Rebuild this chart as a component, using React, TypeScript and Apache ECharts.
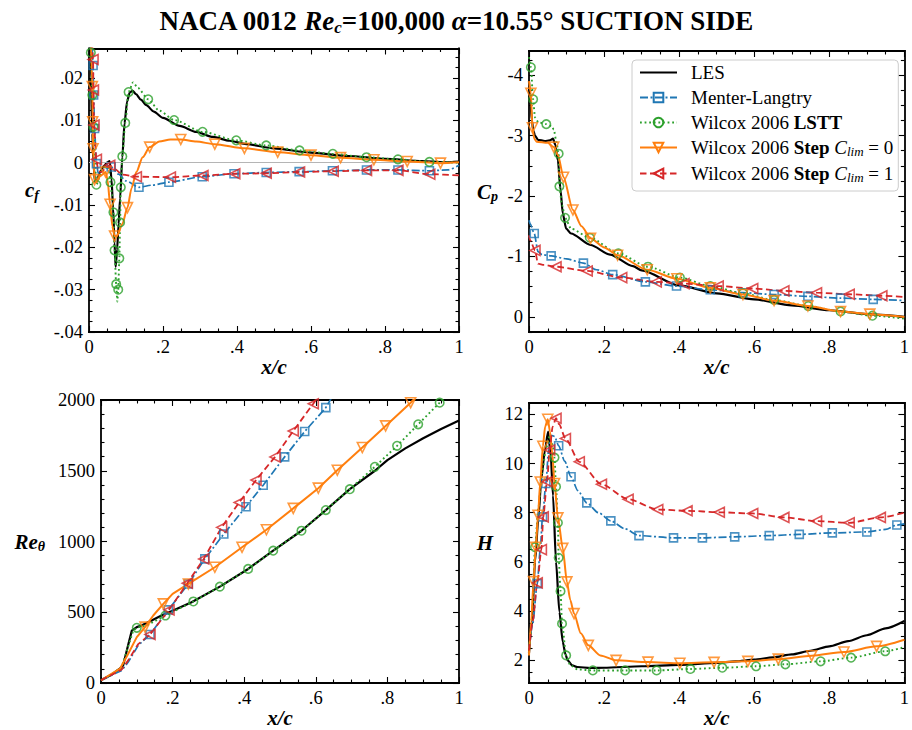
import { useEffect, useRef } from 'react';
import * as echarts from 'echarts';

type P = [number, number];

const FONT = '"Liberation Serif", "Times New Roman", serif';

// ---------- tick labels ----------
const xTicks = [0, 0.2, 0.4, 0.6, 0.8, 1];
const cfTicks = [-0.04, -0.03, -0.02, -0.01, 0, 0.01, 0.02];
const cpTicks = [-4, -3, -2, -1, 0];
const reTicks = [0, 500, 1000, 1500, 2000];
const hTicks = [2, 4, 6, 8, 10, 12];

const NAMES = ['LES', 'Menter-Langtry', 'Wilcox 2006 LSTT', 'Wilcox 2006 Step Clim=0', 'Wilcox 2006 Step Clim=1'];

// ---------- skin friction c_f ----------
const cfLES: P[] = [
  [0.001, 0.045], [0.005, 0.02], [0.009, 0.007], [0.012, 0.0], [0.016, -0.0045], [0.021, -0.0042],
  [0.03, -0.0022], [0.04, -0.0008], [0.05, 0.0001], [0.056, 0.0004], [0.061, -0.004], [0.065, -0.0106],
  [0.069, -0.019], [0.072, -0.0246], [0.076, -0.0205], [0.08, -0.0145], [0.084, -0.0085], [0.09, 0.0013],
  [0.096, 0.0093], [0.103, 0.0145], [0.11, 0.0166], [0.118, 0.017], [0.127, 0.0162], [0.14, 0.0149],
  [0.155, 0.0136], [0.175, 0.0121], [0.2, 0.0106], [0.245, 0.0087], [0.29, 0.0073], [0.335, 0.0061],
  [0.38, 0.0052], [0.425, 0.0044], [0.5, 0.0034], [0.6, 0.0024], [0.7, 0.0016], [0.8, 0.0009],
  [0.9, 0.0004], [0.96, 0.0001], [1.0, 0.0003],
];
const cfML: P[] = [
  [0.003, 0.045], [0.011, 0.023], [0.0125, 0.016], [0.015, 0.0081], [0.02, -0.0002], [0.025, -0.0025],
  [0.035, -0.0018], [0.047, -0.0012], [0.06, -0.001], [0.08, -0.0027], [0.1, -0.0043], [0.135, -0.0058],
  [0.17, -0.0053], [0.216, -0.0046], [0.306, -0.0033], [0.392, -0.0026], [0.479, -0.0023], [0.568, -0.0021],
  [0.658, -0.0019], [0.75, -0.0017], [0.835, -0.0017], [0.92, -0.0019], [0.97, -0.0017], [1.0, -0.0006],
];
const cfMLm: P[] = [
  [0.011, 0.023], [0.0125, 0.016], [0.015, 0.0081], [0.02, -0.0002], [0.06, -0.001], [0.135, -0.0058],
  [0.216, -0.0046], [0.306, -0.0033], [0.392, -0.0026], [0.479, -0.0023], [0.568, -0.0021], [0.658, -0.0019],
  [0.75, -0.0017], [0.835, -0.0017], [0.92, -0.0019],
];
const cfLSTT: P[] = [
  [0.001, 0.05], [0.005, 0.026], [0.009, 0.016], [0.012, 0.0085], [0.016, 0.0], [0.02, -0.0052],
  [0.028, -0.0035], [0.038, -0.0012], [0.048, -0.0008], [0.054, -0.002], [0.058, -0.0046], [0.062, -0.0075],
  [0.066, -0.0117], [0.069, -0.0207], [0.0735, -0.0287], [0.0765, -0.0328], [0.079, -0.03], [0.082, -0.0226],
  [0.084, -0.0141], [0.086, -0.0058], [0.09, 0.0015], [0.098, 0.0094], [0.107, 0.0167], [0.119, 0.019],
  [0.132, 0.0177], [0.16, 0.015], [0.19, 0.0123], [0.23, 0.0101], [0.307, 0.0073], [0.398, 0.0053],
  [0.479, 0.0041], [0.569, 0.0029], [0.659, 0.0021], [0.75, 0.0013], [0.835, 0.0008], [0.92, 0.0002], [1.0, 0.0],
];
const cfLSTTm: P[] = [
  [0.005, 0.026], [0.009, 0.016], [0.012, 0.0085], [0.02, -0.0052], [0.058, -0.0046], [0.066, -0.0117],
  [0.069, -0.0207], [0.0735, -0.0287], [0.079, -0.03], [0.082, -0.0226], [0.084, -0.0141], [0.086, -0.0058],
  [0.09, 0.0015], [0.098, 0.0094], [0.107, 0.0167], [0.16, 0.015], [0.23, 0.0101], [0.307, 0.0073],
  [0.398, 0.0053], [0.479, 0.0041], [0.569, 0.0029], [0.659, 0.0021], [0.75, 0.0013], [0.835, 0.0008], [0.92, 0.0002],
];
const cfS0: P[] = [
  [0.002, 0.04], [0.009, 0.018], [0.01, 0.0097], [0.011, 0.0033], [0.015, -0.004], [0.02, -0.0046],
  [0.03, -0.0032], [0.045, -0.0022], [0.05, -0.004], [0.057, -0.0098], [0.063, -0.015], [0.069, -0.0173],
  [0.076, -0.0172], [0.09, -0.0145], [0.104, -0.0106], [0.115, -0.006], [0.128, -0.0022], [0.145, 0.0013],
  [0.164, 0.0037], [0.19, 0.005], [0.22, 0.0055], [0.248, 0.0055], [0.29, 0.005], [0.34, 0.0044],
  [0.42, 0.0034], [0.51, 0.0025], [0.6, 0.0018], [0.68, 0.0012], [0.77, 0.0007], [0.86, 0.0003],
  [0.95, -0.0001], [1.0, 0.0001],
];
const cfS0m: P[] = [
  [0.009, 0.018], [0.01, 0.0097], [0.011, 0.0033], [0.015, -0.004], [0.045, -0.0022], [0.057, -0.0098],
  [0.069, -0.0173], [0.104, -0.0106], [0.164, 0.0037], [0.248, 0.0055], [0.34, 0.0044], [0.42, 0.0034],
  [0.51, 0.0025], [0.6, 0.0018], [0.68, 0.0012], [0.77, 0.0007], [0.86, 0.0003], [0.95, -0.0001],
];
const cfS1: P[] = [
  [0.003, 0.045], [0.011, 0.0244], [0.012, 0.0172], [0.0135, 0.0089], [0.02, 0.0008], [0.025, -0.002],
  [0.035, -0.0022], [0.046, -0.001], [0.056, -0.0006], [0.07, -0.0015], [0.09, -0.0028], [0.128, -0.0033],
  [0.22, -0.0034], [0.308, -0.003], [0.394, -0.0026], [0.479, -0.0025], [0.569, -0.0022], [0.66, -0.002],
  [0.75, -0.0018], [0.835, -0.0018], [0.921, -0.0027], [1.0, -0.003],
];
const cfS1m: P[] = [
  [0.011, 0.0244], [0.012, 0.0172], [0.0135, 0.0089], [0.02, 0.0008], [0.056, -0.0006], [0.128, -0.0033],
  [0.22, -0.0034], [0.308, -0.003], [0.394, -0.0026], [0.479, -0.0025], [0.569, -0.0022], [0.66, -0.002],
  [0.75, -0.0018], [0.835, -0.0018], [0.921, -0.0027],
];

// ---------- pressure coefficient C_p ----------
const cpLES: P[] = [
  [0, -3.9], [0.004, -3.5], [0.008, -3.25], [0.011, -3.09], [0.016, -3.0], [0.024, -2.93], [0.042, -2.91],
  [0.055, -2.92], [0.064, -2.95], [0.07, -2.85], [0.077, -2.59], [0.084, -2.1], [0.09, -1.71], [0.099, -1.46],
  [0.112, -1.38], [0.164, -1.19], [0.216, -1.03], [0.277, -0.84], [0.3, -0.77], [0.4, -0.52], [0.5, -0.39],
  [0.6, -0.29], [0.7, -0.19], [0.8, -0.11], [0.9, -0.045], [1.0, 0.0],
];
const cpML: P[] = [
  [0, -1.6], [0.003, -1.54], [0.014, -1.38], [0.024, -1.08], [0.035, -1.03], [0.059, -1.01], [0.1, -0.96],
  [0.145, -0.89], [0.18, -0.78], [0.223, -0.7], [0.31, -0.58], [0.393, -0.51], [0.483, -0.45], [0.57, -0.4],
  [0.653, -0.37], [0.743, -0.34], [0.83, -0.31], [0.917, -0.29], [1.0, -0.27],
];
const cpMLm: P[] = [
  [0.014, -1.38], [0.059, -1.01], [0.145, -0.89], [0.223, -0.7], [0.31, -0.58], [0.393, -0.51], [0.483, -0.45],
  [0.57, -0.4], [0.653, -0.37], [0.743, -0.34], [0.83, -0.31], [0.917, -0.29],
];
const cpLSTT: P[] = [
  [0, -4.3], [0.005, -4.13], [0.011, -3.6], [0.016, -3.3], [0.025, -3.22], [0.046, -3.19], [0.06, -3.16],
  [0.066, -3.1], [0.073, -2.9], [0.079, -2.7], [0.081, -2.16], [0.088, -1.85], [0.096, -1.64], [0.112, -1.46],
  [0.162, -1.31], [0.238, -1.05], [0.317, -0.83], [0.402, -0.65], [0.483, -0.51], [0.57, -0.39], [0.653, -0.28],
  [0.744, -0.18], [0.83, -0.09], [0.915, -0.02], [1.0, 0.03],
];
const cpLSTTm: P[] = [
  [0.005, -4.13], [0.011, -3.6], [0.046, -3.19], [0.079, -2.7], [0.081, -2.16], [0.096, -1.64], [0.162, -1.31],
  [0.238, -1.05], [0.317, -0.83], [0.402, -0.65], [0.483, -0.51], [0.57, -0.39], [0.653, -0.28], [0.744, -0.18],
  [0.83, -0.09], [0.915, -0.02],
];
const cpS0: P[] = [
  [0, -3.9], [0.005, -3.7], [0.009, -3.13], [0.014, -2.95], [0.02, -2.9], [0.05, -2.88], [0.066, -2.81],
  [0.077, -2.68], [0.092, -2.31], [0.117, -1.77], [0.14, -1.5], [0.164, -1.3], [0.2, -1.15], [0.236, -1.02],
  [0.315, -0.78], [0.394, -0.63], [0.483, -0.48], [0.57, -0.37], [0.653, -0.27], [0.743, -0.18], [0.83, -0.09],
  [0.908, -0.045], [1.0, 0.0],
];
const cpS0m: P[] = [
  [0.005, -3.7], [0.009, -3.13], [0.066, -2.81], [0.092, -2.31], [0.117, -1.77], [0.164, -1.3], [0.236, -1.02],
  [0.315, -0.78], [0.394, -0.63], [0.483, -0.48], [0.57, -0.37], [0.653, -0.27], [0.743, -0.18], [0.83, -0.09],
  [0.908, -0.045],
];
const cpS1: P[] = [
  [0, -1.35], [0.003, -1.27], [0.016, -1.1], [0.024, -0.88], [0.04, -0.86], [0.072, -0.83], [0.155, -0.76],
  [0.247, -0.65], [0.339, -0.58], [0.413, -0.55], [0.504, -0.51], [0.596, -0.47], [0.679, -0.43], [0.766, -0.4],
  [0.853, -0.375], [0.94, -0.35], [1.0, -0.33],
];
const cpS1m: P[] = [
  [0.016, -1.1], [0.072, -0.83], [0.155, -0.76], [0.247, -0.65], [0.339, -0.58], [0.413, -0.55], [0.504, -0.51],
  [0.596, -0.47], [0.679, -0.43], [0.766, -0.4], [0.853, -0.375], [0.94, -0.35],
];

// ---------- momentum thickness Reynolds number Re_theta ----------
const reLES: P[] = [
  [0, 19], [0.03, 60], [0.058, 113], [0.062, 125], [0.075, 260], [0.086, 370], [0.1, 395], [0.113, 407],
  [0.14, 440], [0.169, 477], [0.2, 510], [0.253, 571], [0.332, 681], [0.411, 806], [0.481, 935], [0.56, 1076],
  [0.628, 1222], [0.695, 1370], [0.765, 1500], [0.8, 1575], [0.85, 1658], [0.9, 1730], [0.95, 1795], [1.0, 1855],
];
const reML: P[] = [
  [0, 19], [0.058, 89], [0.076, 148], [0.104, 266], [0.137, 343], [0.188, 517], [0.244, 700], [0.29, 877],
  [0.343, 1053], [0.405, 1246], [0.453, 1398], [0.513, 1598], [0.569, 1777], [0.628, 1946], [0.645, 2020],
];
const reMLm: P[] = [
  [0.137, 343], [0.188, 517], [0.244, 700], [0.29, 877], [0.343, 1053], [0.405, 1246], [0.453, 1398],
  [0.513, 1598], [0.569, 1777], [0.628, 1946],
];
const reLSTT: P[] = [
  [0, 19], [0.03, 60], [0.058, 113], [0.075, 250], [0.09, 370], [0.1, 390], [0.13, 410], [0.18, 477],
  [0.258, 576], [0.332, 681], [0.411, 806], [0.481, 935], [0.56, 1076], [0.628, 1222], [0.695, 1370],
  [0.765, 1528], [0.827, 1676], [0.886, 1828], [0.946, 1981], [0.96, 2020],
];
const reLSTTm: P[] = [
  [0.1, 390], [0.18, 477], [0.258, 576], [0.332, 681], [0.411, 806], [0.481, 935], [0.56, 1076], [0.628, 1222],
  [0.695, 1370], [0.765, 1528], [0.827, 1676], [0.886, 1828], [0.946, 1981],
];
const reS0: P[] = [
  [0, 19], [0.053, 101], [0.076, 207], [0.1, 324], [0.123, 395], [0.146, 477], [0.174, 559], [0.2, 630],
  [0.244, 700], [0.318, 818], [0.394, 959], [0.462, 1083], [0.537, 1234], [0.607, 1377], [0.66, 1504],
  [0.73, 1664], [0.795, 1817], [0.865, 1981], [0.88, 2020],
];
const reS0m: P[] = [
  [0.123, 395], [0.174, 559], [0.244, 700], [0.318, 818], [0.394, 959], [0.462, 1083], [0.537, 1234],
  [0.607, 1377], [0.66, 1504], [0.73, 1664], [0.795, 1817], [0.865, 1981],
];
const reS1: P[] = [
  [0, 19], [0.058, 95], [0.076, 160], [0.104, 275], [0.137, 343], [0.19, 517], [0.241, 705], [0.287, 877],
  [0.337, 1100], [0.386, 1276], [0.433, 1434], [0.486, 1598], [0.537, 1781], [0.593, 1974], [0.605, 2020],
];
const reS1m: P[] = [
  [0.137, 343], [0.19, 517], [0.241, 705], [0.287, 877], [0.337, 1100], [0.386, 1276], [0.433, 1434],
  [0.486, 1598], [0.537, 1781], [0.593, 1974],
];

// ---------- shape factor H ----------
const hLES: P[] = [
  [0, 2.3], [0.008, 3.6], [0.016, 6.0], [0.025, 7.8], [0.033, 9.4], [0.042, 10.5], [0.051, 11.3], [0.058, 10.3],
  [0.064, 8.7], [0.072, 6.0], [0.081, 3.97], [0.09, 2.75], [0.097, 2.25], [0.103, 2.0], [0.115, 1.8],
  [0.129, 1.73], [0.164, 1.69], [0.2, 1.7], [0.3, 1.76], [0.4, 1.82], [0.5, 1.9], [0.55, 1.96], [0.6, 2.03],
  [0.65, 2.12], [0.7, 2.24], [0.75, 2.39], [0.8, 2.57], [0.85, 2.78], [0.9, 3.02], [0.95, 3.3], [1.0, 3.6],
];
const hML: P[] = [
  [0, 2.5], [0.01, 3.5], [0.022, 5.12], [0.03, 6.5], [0.036, 7.83], [0.045, 9.19], [0.052, 10.5], [0.059, 11.15],
  [0.068, 11.1], [0.079, 10.72], [0.095, 10.1], [0.112, 9.46], [0.13, 8.9], [0.154, 8.4], [0.185, 8.0],
  [0.218, 7.67], [0.255, 7.35], [0.293, 7.07], [0.385, 6.98], [0.462, 6.98], [0.548, 7.02], [0.64, 7.07],
  [0.72, 7.12], [0.808, 7.18], [0.9, 7.22], [0.95, 7.32], [0.98, 7.5], [1.0, 7.55],
];
const hMLm: P[] = [
  [0.022, 5.12], [0.036, 7.83], [0.045, 9.19], [0.079, 10.72], [0.112, 9.46], [0.154, 8.4], [0.218, 7.67],
  [0.293, 7.07], [0.385, 6.98], [0.462, 6.98], [0.548, 7.02], [0.64, 7.07], [0.72, 7.12], [0.808, 7.18],
  [0.9, 7.22], [0.98, 7.5],
];
const hLSTT: P[] = [
  [0, 2.3], [0.008, 3.7], [0.016, 6.6], [0.025, 8.2], [0.035, 9.6], [0.045, 10.6], [0.055, 11.1], [0.062, 10.8],
  [0.068, 10.24], [0.072, 9.06], [0.077, 7.59], [0.079, 6.17], [0.084, 4.81], [0.088, 3.49], [0.099, 2.2],
  [0.11, 1.8], [0.13, 1.63], [0.17, 1.59], [0.256, 1.59], [0.34, 1.59], [0.43, 1.65], [0.515, 1.7],
  [0.605, 1.76], [0.683, 1.84], [0.777, 1.96], [0.858, 2.11], [0.949, 2.37], [1.0, 2.54],
];
const hLSTTm: P[] = [
  [0.016, 6.6], [0.068, 10.24], [0.072, 9.06], [0.077, 7.59], [0.079, 6.17], [0.084, 4.81], [0.088, 3.49],
  [0.099, 2.2], [0.17, 1.59], [0.256, 1.59], [0.34, 1.59], [0.43, 1.65], [0.515, 1.7], [0.605, 1.76],
  [0.683, 1.84], [0.777, 1.96], [0.858, 2.11], [0.949, 2.37],
];
const hS0: P[] = [
  [0, 2.2], [0.006, 3.6], [0.012, 5.2], [0.018, 6.6], [0.024, 7.9], [0.03, 9.25], [0.037, 10.7], [0.043, 11.5],
  [0.05, 11.8], [0.056, 11.3], [0.062, 10.4], [0.068, 9.19], [0.077, 7.79], [0.09, 6.55], [0.101, 5.19],
  [0.11, 4.45], [0.12, 3.9], [0.138, 3.1], [0.158, 2.61], [0.19, 2.2], [0.232, 2.0], [0.317, 1.93],
  [0.402, 1.88], [0.493, 1.92], [0.583, 1.96], [0.664, 2.05], [0.753, 2.19], [0.839, 2.34], [0.926, 2.57],
  [1.0, 2.84],
];
const hS0m: P[] = [
  [0.012, 5.2], [0.018, 6.6], [0.024, 7.9], [0.03, 9.25], [0.037, 10.7], [0.05, 11.8], [0.068, 9.19],
  [0.077, 7.79], [0.09, 6.55], [0.101, 5.19], [0.12, 3.9], [0.158, 2.61], [0.232, 2.0], [0.317, 1.93],
  [0.402, 1.88], [0.493, 1.92], [0.583, 1.96], [0.664, 2.05], [0.753, 2.19], [0.839, 2.34], [0.926, 2.57],
];
const hS1: P[] = [
  [0, 2.4], [0.01, 3.6], [0.022, 5.15], [0.033, 6.5], [0.038, 7.83], [0.048, 9.26], [0.055, 10.55],
  [0.063, 11.5], [0.072, 11.84], [0.08, 11.6], [0.097, 11.02], [0.134, 10.07], [0.193, 9.16], [0.264, 8.55],
  [0.343, 8.13], [0.421, 8.08], [0.507, 8.02], [0.596, 7.97], [0.679, 7.81], [0.766, 7.66], [0.853, 7.59],
  [0.936, 7.81], [1.0, 8.0],
];
const hS1m: P[] = [
  [0.022, 5.15], [0.033, 6.5], [0.038, 7.83], [0.048, 9.26], [0.055, 10.55], [0.072, 11.84], [0.097, 11.02],
  [0.134, 10.07], [0.193, 9.16], [0.264, 8.55], [0.343, 8.13], [0.421, 8.08], [0.507, 8.02], [0.596, 7.97],
  [0.679, 7.81], [0.766, 7.66], [0.853, 7.59], [0.936, 7.81],
];

// ---------- styles ----------
const STYLES = [
  { color: '#000000', width: 2.2, type: 'solid' as any, symbol: 'none', size: 0, rotate: 0 },
  { color: '#1f77b4', width: 1.7, type: [8, 2.5, 2, 2.5] as any, symbol: 'rect', size: 8, rotate: 0 },
  { color: '#2ca02c', width: 1.9, type: [1.8, 2.8] as any, symbol: 'circle', size: 8.5, rotate: 0 },
  { color: '#ff7f0e', width: 2.0, type: 'solid' as any, symbol: 'triangle', size: 10, rotate: 180 },
  { color: '#d62728', width: 1.8, type: [6.5, 3.5] as any, symbol: 'triangle', size: 10, rotate: 90 },
];

const nameRich = {
  bi: { fontFamily: FONT, fontSize: 21, fontWeight: 'bold', fontStyle: 'italic', color: '#000', lineHeight: 24 },
  sbi: { fontFamily: FONT, fontSize: 14, fontWeight: 'bold', fontStyle: 'italic', color: '#000', lineHeight: 24, verticalAlign: 'bottom' },
};

const PANELS = [
  {
    grid: { left: 89, top: 48.5, width: 370, height: 283.5 },
    yMin: -0.04, yMax: 0.027, inverse: false, yTicks: cfTicks, yMinor: 0.0025,
    yName: '{bi|c}{sbi|f}', yNameGap: 50, smooth: true,
    lines: [cfLES, cfML, cfLSTT, cfS0, cfS1], marks: [null, cfMLm, cfLSTTm, cfS0m, cfS1m],
  },
  {
    grid: { left: 529, top: 51, width: 381.5, height: 281 },
    yMin: -4.4, yMax: 0.25, inverse: true, yTicks: cpTicks, yMinor: 0.25,
    yName: '{bi|C}{sbi|p}', yNameGap: 31, smooth: true,
    lines: [cpLES, cpML, cpLSTT, cpS0, cpS1], marks: [null, cpMLm, cpLSTTm, cpS0m, cpS1m],
  },
  {
    grid: { left: 101, top: 400, width: 358, height: 283 },
    yMin: 0, yMax: 2000, inverse: false, yTicks: reTicks, yMinor: 100,
    yName: '{bi|Re}{sbi|θ}', yNameGap: 56, smooth: false,
    lines: [reLES, reML, reLSTT, reS0, reS1], marks: [null, reMLm, reLSTTm, reS0m, reS1m],
  },
  {
    grid: { left: 529, top: 403, width: 381.5, height: 280 },
    yMin: 1.08, yMax: 12.46, inverse: false, yTicks: hTicks, yMinor: 0.5,
    yName: '{bi|H}', yNameGap: 36, smooth: true,
    lines: [hLES, hML, hLSTT, hS0, hS1], marks: [null, hMLm, hLSTTm, hS0m, hS1m],
  },
];

function minorValues(min: number, max: number, step: number, majors: number[]) {
  const out: number[] = [];
  const start = Math.ceil(min / step - 1e-9);
  const end = Math.floor(max / step + 1e-9);
  for (let k = start; k <= end; k++) {
    const v = +(k * step).toFixed(6);
    if (!majors.some((m) => Math.abs(m - v) < step * 1e-3)) out.push(v);
  }
  return out;
}

const fmt = (v: number) => String(+(+v).toFixed(4)).replace(/^(-?)0\./, '$1.');

const LINE = { color: '#000', width: 1.8, cap: 'square' };
const TICK = { color: '#000', width: 1.1 };
const TICKFONT = { color: '#000', fontFamily: FONT, fontSize: 18.5 };

function buildOption() {
  const xAxis: any[] = [];
  const yAxis: any[] = [];
  const series: any[] = [];
  const xMinor = minorValues(0, 1, 0.05, xTicks);

  PANELS.forEach((p, i) => {
    const xc = { type: 'value', gridIndex: i, min: 0, max: 1, splitLine: { show: false } };
    xAxis.push({
      ...xc, position: 'bottom',
      axisLine: { show: true, onZero: false, lineStyle: LINE },
      axisTick: { show: true, inside: true, length: 6, lineStyle: TICK, customValues: xTicks },
      axisLabel: { show: true, customValues: xTicks, formatter: fmt, margin: 5, ...TICKFONT },
      name: '{bi|x/c}', nameLocation: 'middle', nameGap: 23,
      nameTextStyle: { rich: nameRich },
    });
    xAxis.push({
      ...xc, position: 'bottom', axisLine: { show: false, onZero: false },
      axisTick: { show: true, inside: true, length: 3.5, lineStyle: TICK, customValues: xMinor },
      axisLabel: { show: false },
    });
    xAxis.push({
      ...xc, position: 'top',
      axisLine: { show: true, onZero: false, lineStyle: LINE },
      axisTick: { show: true, inside: true, length: 6, lineStyle: TICK, customValues: xTicks },
      axisLabel: { show: false },
    });
    xAxis.push({
      ...xc, position: 'top', axisLine: { show: false, onZero: false },
      axisTick: { show: true, inside: true, length: 3.5, lineStyle: TICK, customValues: xMinor },
      axisLabel: { show: false },
    });

    const yMinor = minorValues(p.yMin, p.yMax, p.yMinor, p.yTicks);
    const yc = { type: 'value', gridIndex: i, min: p.yMin, max: p.yMax, inverse: p.inverse, splitLine: { show: false } };
    yAxis.push({
      ...yc, position: 'left',
      axisLine: { show: true, onZero: false, lineStyle: LINE },
      axisTick: { show: true, inside: true, length: 6, lineStyle: TICK, customValues: p.yTicks },
      axisLabel: { show: true, customValues: p.yTicks, formatter: fmt, margin: 6, ...TICKFONT },
      name: p.yName, nameLocation: 'middle', nameRotate: 0, nameGap: p.yNameGap,
      nameTextStyle: { rich: nameRich },
    });
    yAxis.push({
      ...yc, position: 'left', axisLine: { show: false, onZero: false },
      axisTick: { show: true, inside: true, length: 3.5, lineStyle: TICK, customValues: yMinor },
      axisLabel: { show: false },
    });
    yAxis.push({
      ...yc, position: 'right',
      axisLine: { show: true, onZero: false, lineStyle: LINE },
      axisTick: { show: true, inside: true, length: 6, lineStyle: TICK, customValues: p.yTicks },
      axisLabel: { show: false },
    });
    yAxis.push({
      ...yc, position: 'right', axisLine: { show: false, onZero: false },
      axisTick: { show: true, inside: true, length: 3.5, lineStyle: TICK, customValues: yMinor },
      axisLabel: { show: false },
    });

    p.lines.forEach((data, m) => {
      const s = STYLES[m];
      const line: any = {
        type: 'line', name: NAMES[m], xAxisIndex: 4 * i, yAxisIndex: 4 * i, data,
        showSymbol: false, symbol: s.symbol, symbolSize: s.size, symbolRotate: s.rotate,
        smooth: p.smooth ? 0.25 : false, smoothMonotone: 'x', clip: true,
        lineStyle: { color: s.color, width: s.width, type: s.type },
        itemStyle: m === 0 ? { color: s.color } : { color: 'rgba(255,255,255,0)', borderColor: s.color, borderWidth: 1.5 },
        z: 2 + m, silent: true,
      };
      if (i === 0 && m === 0) {
        line.markLine = {
          silent: true, symbol: ['none', 'none'], label: { show: false },
          lineStyle: { color: '#b5b5b5', width: 1, type: 'solid' },
          data: [{ yAxis: 0 }],
        };
      }
      series.push(line);
      const mk = p.marks[m];
      if (mk) {
        series.push({
          type: 'scatter', name: NAMES[m], xAxisIndex: 4 * i, yAxisIndex: 4 * i, data: mk,
          symbol: s.symbol, symbolSize: s.size, symbolRotate: s.rotate, clip: true,
          itemStyle: { color: 'rgba(255,255,255,0)', borderColor: s.color, borderWidth: 1.6 },
          z: 10, silent: true,
        });
      }
    });
  });

  const legendText: Record<string, string> = {
    'LES': '{n|LES}',
    'Menter-Langtry': '{n|Menter-Langtry}',
    'Wilcox 2006 LSTT': '{n|Wilcox 2006 }{b|LSTT}',
    'Wilcox 2006 Step Clim=0': '{n|Wilcox 2006 }{b|Step}{n| }{i|C}{s|lim}{n| = 0}',
    'Wilcox 2006 Step Clim=1': '{n|Wilcox 2006 }{b|Step}{n| }{i|C}{s|lim}{n| = 1}',
  };

  return {
    animation: false,
    backgroundColor: '#ffffff',
    title: {
      text: '{b|NACA 0012 }{bi|Re}{s|c}{b|=100,000 }{bi|α}{b|=10.55° SUCTION SIDE}',
      left: 'center', top: 1,
      textStyle: {
        rich: {
          b: { fontFamily: FONT, fontSize: 27, fontWeight: 'bold', color: '#000', lineHeight: 30 },
          bi: { fontFamily: FONT, fontSize: 27, fontWeight: 'bold', fontStyle: 'italic', color: '#000', lineHeight: 30 },
          s: { fontFamily: FONT, fontSize: 17, fontWeight: 'bold', fontStyle: 'italic', color: '#000', lineHeight: 30, verticalAlign: 'bottom' },
        },
      },
    },
    grid: PANELS.map((p) => ({ ...p.grid, containLabel: false })),
    xAxis,
    yAxis,
    legend: {
      data: [
        { name: 'LES', icon: 'path://M0,0L37,0L37,2.2L0,2.2Z' },
        NAMES[1], NAMES[2], NAMES[3], NAMES[4],
      ],
      orient: 'vertical', left: 632, top: 60,
      padding: [3, 5, 7, 7], itemWidth: 37, itemHeight: 12, itemGap: 6,
      backgroundColor: 'rgba(255,255,255,0.85)', borderColor: '#cccccc', borderWidth: 1, borderRadius: 4,
      selectedMode: false,
      formatter: (n: string) => legendText[n] || n,
      textStyle: {
        fontFamily: FONT, fontSize: 19, color: '#000', padding: [0, 0, 0, 9],
        rich: {
          n: { fontFamily: FONT, fontSize: 19, color: '#000', lineHeight: 21 },
          b: { fontFamily: FONT, fontSize: 19, fontWeight: 'bold', color: '#000', lineHeight: 21 },
          i: { fontFamily: FONT, fontSize: 19, fontStyle: 'italic', color: '#000', lineHeight: 21 },
          s: { fontFamily: FONT, fontSize: 13, fontStyle: 'italic', color: '#000', lineHeight: 21, verticalAlign: 'bottom' },
        },
      },
    },
    series,
  };
}

export default function App() {
  const ref = useRef<HTMLDivElement>(null);
  useEffect(() => {
    if (!ref.current) return;
    const chart = echarts.init(ref.current, null, { renderer: 'svg' });
    chart.setOption(buildOption() as any);
    return () => chart.dispose();
  }, []);
  return (
    <div
      ref={ref}
      style={{ position: 'absolute', left: 0, top: 0, width: 912, height: 730, background: '#fff' }}
    />
  );
}
